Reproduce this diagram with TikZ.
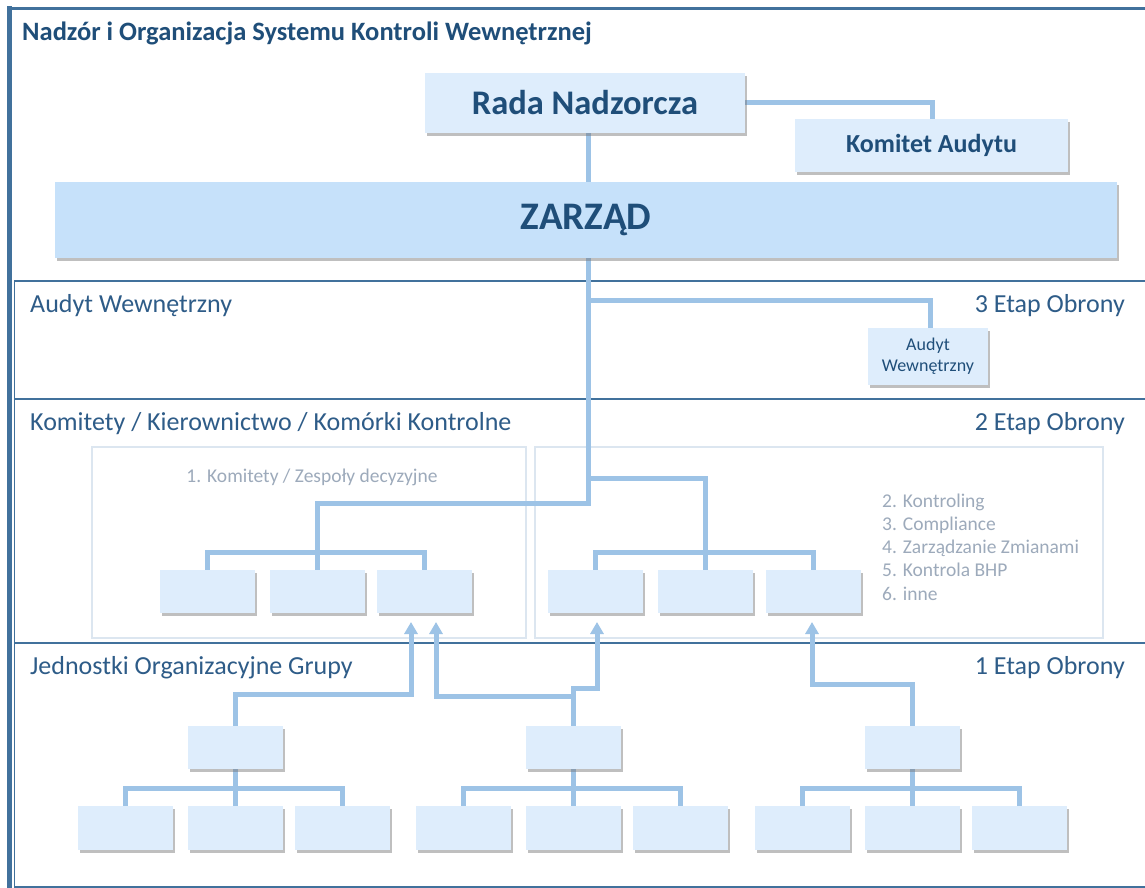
\documentclass[tikz,border=0pt]{standalone}
\usepackage{fontspec}
\setmainfont{Carlito}
\usetikzlibrary{arrows.meta,shadows,calc}
\definecolor{frameblue}{HTML}{41719C}
\definecolor{darktext}{HTML}{1F4E79}
\definecolor{labeltext}{HTML}{2E5C88}
\definecolor{connblue}{HTML}{9DC3E6}
\definecolor{boxfill}{HTML}{DEEDFC}
\definecolor{zfill}{HTML}{C6E1FA}
\definecolor{grpline}{HTML}{DCE6F0}
\definecolor{graytext}{HTML}{9DAABB}
\pgfdeclarelayer{bg}
\pgfdeclarelayer{conn}
\pgfsetlayers{bg,conn,main}
\tikzset{
  box/.style={draw=none, fill=boxfill, inner sep=0pt, outer sep=0pt,
    drop shadow={shadow xshift=2pt, shadow yshift=-3pt, fill=black!55, opacity=0.45}},
  orgbox/.style={box, minimum width=95pt, minimum height=43pt},
  conn/.style={draw=connblue, line width=5pt},
  upconn/.style={conn, -{Triangle[width=13pt,length=12pt]}},
  frameline/.style={draw=frameblue, line width=2pt},
  grpbox/.style={draw=grpline, line width=1.5pt},
  sectlabel/.style={text=labeltext, inner sep=0pt, font=\fontsize{26}{30}\selectfont},
  graylabel/.style={text=graytext, inner sep=0pt, font=\fontsize{19.5}{23.25}\selectfont},
}
\begin{document}
\begin{tikzpicture}[x=1pt, y=-1pt]
\useasboundingbox (0,0) rectangle (1145,888);
\begin{pgfonlayer}{bg}
  \fill[white] (0,0) rectangle (1145,888);
  % frame
  \draw[frameblue, line width=4.5pt] (9.5,6.5) -- (9.5,888);
  \draw[frameblue, line width=3.5pt] (7,8.5) -- (1145,8.5);
  \draw[frameblue, line width=1.5pt] (14.5,281) -- (14.5,887);
  \draw[frameline] (14,281) -- (1145,281);
  \draw[frameline] (14,399) -- (1145,399);
  \draw[frameline] (14,643) -- (1145,643);
  \draw[frameline] (14,886.5) -- (1145,886.5);
  % group boxes
  \draw[grpbox] (92,447) rectangle (526,638);
  \draw[grpbox] (535,447) rectangle (1103,638);
\end{pgfonlayer}

% title
\node[anchor=base west, inner sep=0pt, text=darktext, font=\bfseries\fontsize{26.5}{30}\selectfont] (title) at (22,41) {Nadzór i Organizacja Systemu Kontroli Wewnętrznej};

% top boxes
\node[box, minimum width=320pt, minimum height=60pt, text=darktext, font=\bfseries\fontsize{34.5}{40}\selectfont] (rada) at (585,103) {Rada Nadzorcza};
\node[box, minimum width=273pt, minimum height=53pt, text=darktext, font=\bfseries\fontsize{26}{30}\selectfont] (komitet) at (931.5,145.5) {Komitet Audytu};
\node[box, fill=zfill, minimum width=1062pt, minimum height=76pt, text=darktext, font=\bfseries\fontsize{39}{45}\selectfont] (zarzad) at (586,220) {ZARZĄD};

% section labels
\node[sectlabel, anchor=base west] (s3) at (30,312) {Audyt Wewnętrzny};
\node[sectlabel, anchor=base east] (e3) at (1125,312) {3 Etap Obrony};
\node[sectlabel, anchor=base west] (s2) at (30,430) {Komitety / Kierownictwo / Komórki Kontrolne};
\node[sectlabel, anchor=base east] (e2) at (1125,430) {2 Etap Obrony};
\node[sectlabel, anchor=base west] (s1) at (30,674) {Jednostki Organizacyjne Grupy};
\node[sectlabel, anchor=base east] (e1) at (1125,674) {1 Etap Obrony};

% audyt box
\node[box, minimum width=120pt, minimum height=57pt, align=center, text=darktext, font=\fontsize{18}{21}\selectfont] (audyt) at (928,356.5) {Audyt\\Wewnętrzny};

% group texts
\node[graylabel, anchor=base] (g1) at (312,482) {1. Komitety / Zespoły decyzyjne};
\node[graylabel, anchor=base west] (g2) at (882,507) {2. Kontroling};
\node[graylabel, anchor=base west] (g3) at (882,530.25) {3. Compliance};
\node[graylabel, anchor=base west] (g4) at (882,553.5) {4. Zarządzanie Zmianami};
\node[graylabel, anchor=base west] (g5) at (882,576.75) {5. Kontrola BHP};
\node[graylabel, anchor=base west] (g6) at (882,600) {6. inne};

% committee boxes
\node[orgbox] (lg1) at (207.5,591.5) {};
\node[orgbox] (lg2) at (317,591.5) {};
\node[orgbox] (lg3) at (424,591.5) {};
\node[orgbox] (rg1) at (595.5,591.5) {};
\node[orgbox] (rg2) at (705.5,591.5) {};
\node[orgbox] (rg3) at (813,591.5) {};

% unit boxes
\node[orgbox] (h1) at (235.5,747.5) {};
\node[orgbox] (h2) at (573.5,747.5) {};
\node[orgbox] (h3) at (912.5,747.5) {};
\node[orgbox, minimum height=44pt] (c11) at (125.5,828) {};
\node[orgbox, minimum height=44pt] (c12) at (235.5,828) {};
\node[orgbox, minimum height=44pt] (c13) at (342.5,828) {};
\node[orgbox, minimum height=44pt] (c21) at (463.5,828) {};
\node[orgbox, minimum height=44pt] (c22) at (573.5,828) {};
\node[orgbox, minimum height=44pt] (c23) at (680.5,828) {};
\node[orgbox, minimum height=44pt] (c31) at (802.5,828) {};
\node[orgbox, minimum height=44pt] (c32) at (912.5,828) {};
\node[orgbox, minimum height=44pt] (c33) at (1019,828) {};

% helper coordinates
\coordinate (trunk) at (588,0);
\coordinate (j3) at (588,300);
\coordinate (j2) at (588,478);
\coordinate (j1) at (588,503);
\coordinate (lbar) at (0,552);
\coordinate (bbar) at (0,788);
\coordinate (a1) at (411,0);
\coordinate (a2) at (436,0);
\coordinate (a3) at (597,0);
\coordinate (a4) at (812,0);
\coordinate (tip) at (0,622);
\coordinate (k1) at (0,694);
\coordinate (k2) at (0,696);
\coordinate (k3) at (0,688);
\coordinate (k4) at (0,684);

\begin{pgfonlayer}{conn}
  \draw[conn] (rada.east) -| ($(komitet.north)+(0.5,0)$);
  \draw[conn] (rada.south -| trunk) -- (zarzad.north -| trunk);
  \draw[conn] (zarzad.south -| trunk) -- (j1) -| (lg2.north);
  \draw[conn] (j3) -| ($(audyt.north)+(2,0)$);
  \draw[conn] (j2) -| (rg2.north);
  \draw[conn] (lg1.north) -- (lg1.north |- lbar) -- (lg3.north |- lbar) -- (lg3.north);
  \draw[conn] (rg1.north) -- (rg1.north |- lbar) -- (rg3.north |- lbar) -- (rg3.north);
  % bottom trees
  \foreach \h/\a/\b in {h1/c11/c13, h2/c21/c23, h3/c31/c33} {
    \draw[conn] (\h.south) -- (\h.south |- bbar);
    \draw[conn] (\a.north) -- (\a.north |- bbar) -- (\b.north |- bbar) -- (\b.north);
  }
  \draw[conn] (c12.north) -- (c12.north |- bbar);
  \draw[conn] (c22.north) -- (c22.north |- bbar);
  \draw[conn] (c32.north) -- (c32.north |- bbar);
  % arrows up
  \draw[upconn] (h1.north) -- (h1.north |- k1) -- (a1 |- k1) -- (a1 |- tip);
  \draw[upconn] (h2.north) -- (h2.north |- k2) -- (a2 |- k2) -- (a2 |- tip);
  \draw[upconn] (h2.north) -- (h2.north |- k3) -- (a3 |- k3) -- (a3 |- tip);
  \draw[upconn] (h3.north) -- (h3.north |- k4) -- (a4 |- k4) -- (a4 |- tip);
\end{pgfonlayer}
\end{tikzpicture}
\end{document}
